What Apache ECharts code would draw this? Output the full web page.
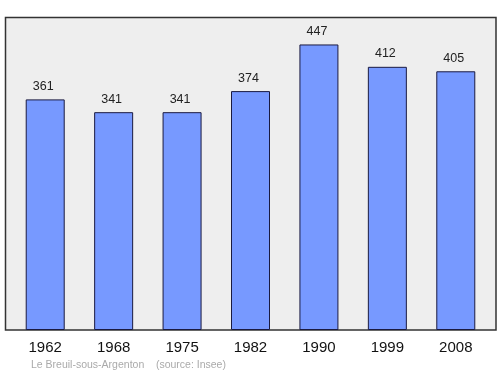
<!DOCTYPE html>
<html><head><meta charset="utf-8">
<script src="https://cdn.jsdelivr.net/npm/echarts@6/dist/echarts.min.js"></script>
<style>html,body{margin:0;padding:0;background:#fff}#c{width:500px;height:374px}</style>
</head><body><div id="c"></div>
<script>
const categories = ['1962','1968','1975','1982','1990','1999','2008'];
const population = [361,341,341,374,447,412,405];
const sourceText = 'Le Breuil-sous-Argenton    (source: Insee)';

const chart = echarts.init(document.getElementById('c'));
chart.setOption({
  animation: false,
  grid: {left: 11, right: 10, top: 17, bottom: 44},
  graphic: [
    {type: 'rect', z: -10, shape: {x: 5.5, y: 17.5, width: 490.5, height: 312.5},
     style: {fill: '#eeeeee', stroke: '#333333', lineWidth: 1.5}},
    {type: 'text', left: 31, top: 360, style: {text: sourceText, fill: '#aaaaaa', font: '10.5px "Liberation Sans", Arial, sans-serif'}}
  ],
  xAxis: {type: 'category', data: categories,
    axisLine: {show: false}, axisTick: {show: false},
    axisLabel: {fontSize: 15, color: '#111', margin: 10, fontFamily: 'Liberation Sans, Arial, sans-serif'}},
  yAxis: {type: 'value', min: 0, max: 490, show: false, splitLine: {show: false}},
  series: [{type: 'bar', data: population, barWidth: 39,
    itemStyle: {color: '#7799ff', borderColor: '#1a1a40', borderWidth: 1},
    label: {show: true, position: 'top', distance: 6.5, fontSize: 12.5, color: '#222', offset: [-2, 0],
      fontFamily: 'Liberation Sans, Arial, sans-serif'}}]
});
</script></body></html>
